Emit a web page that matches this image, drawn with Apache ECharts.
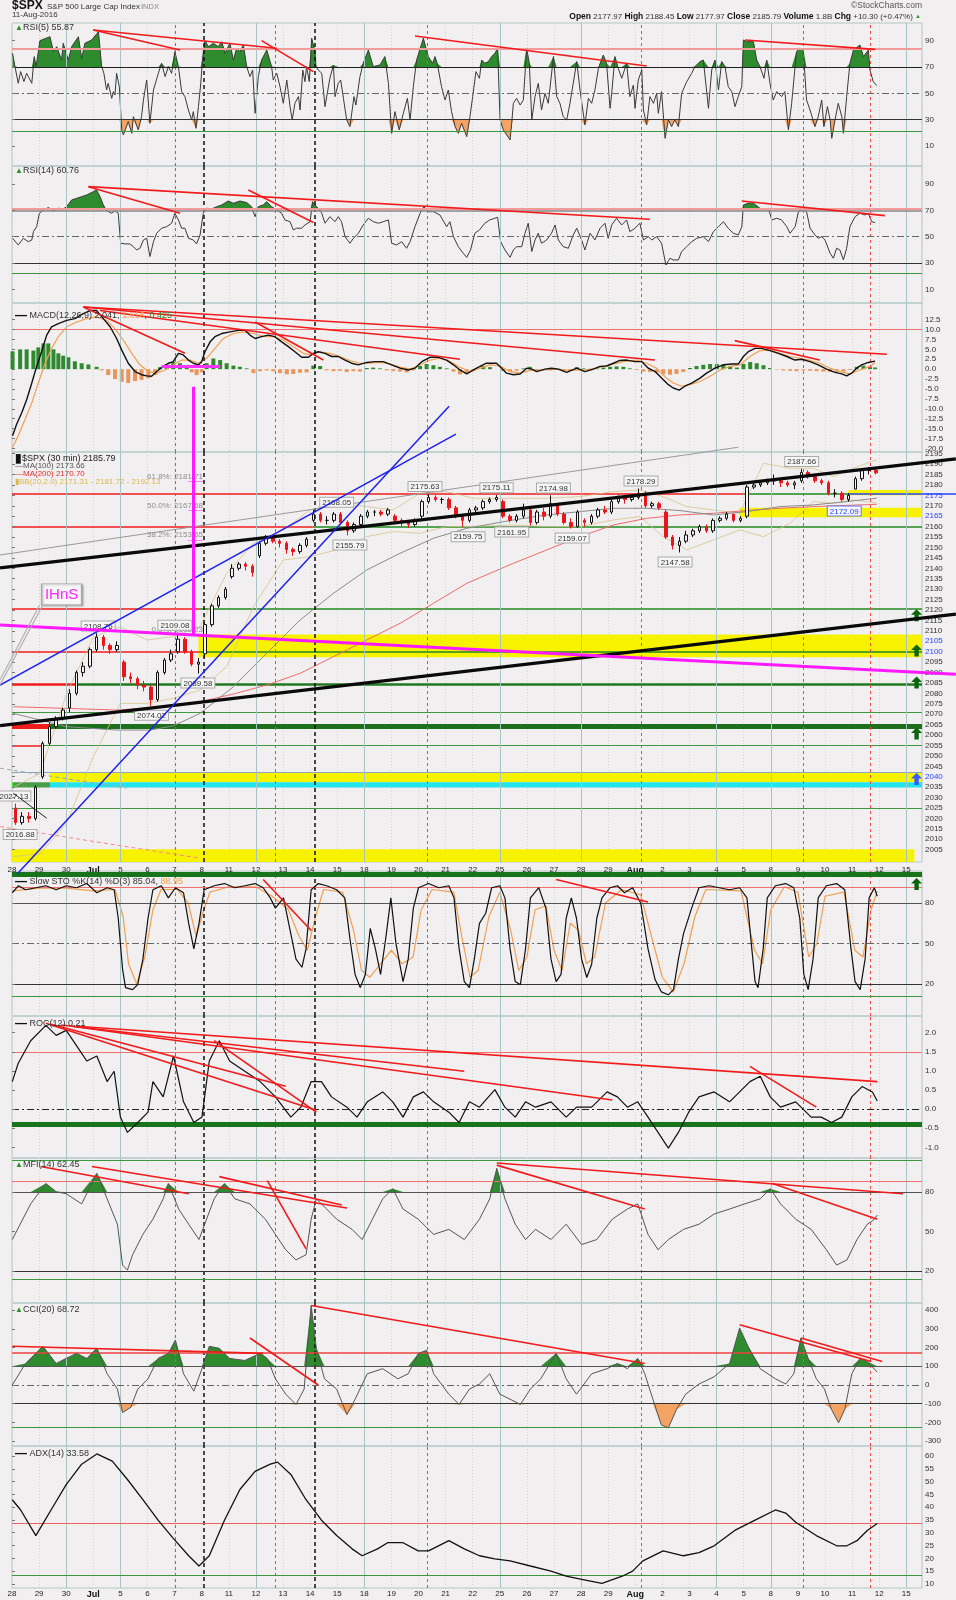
<!DOCTYPE html>
<html><head><meta charset="utf-8"><title>$SPX</title>
<script src="https://cdn.jsdelivr.net/npm/echarts@6.0.0/dist/echarts.min.js"></script>
<style>html,body{margin:0;padding:0;background:#f2eff0;}#c{width:956px;height:1600px;}</style>
</head><body><div id="c"></div>
<script>
// x = trading-day index (0 = 28 Jun 2016), fraction = time of day
const dayLabels = ['28','29','30','Jul','5','6','7','8','11','12','13','14','15','18','19','20','21','22','25','26','27','28','29','Aug','2','3','4','5','8','9','10','11','12','15'];

const rsi5 = [[0.02,80.4],[0.11,70.3],[0.23,57.6],[0.32,66.5],[0.44,58.9],[0.54,65.2],[0.73,57.6],[0.82,77.9],[0.89,70.3],[1.03,90],[1.40,93],[1.53,81.7],[1.65,85.4],[1.83,75.3],[1.89,88],[2.08,75.3],[2.20,85.4],[2.45,93],[2.57,76.6],[2.69,88],[2.94,90.5],[3.19,96.8],[3.31,70.3],[3.39,65.2],[3.49,52.5],[3.55,57.6],[3.68,46.2],[3.74,51.3],[3.80,48.7],[3.86,65.2],[3.96,55.1],[4.05,22.2],[4.11,18.4],[4.29,28.5],[4.42,19.6],[4.48,32.3],[4.66,22.2],[4.78,32.3],[4.85,44.9],[4.97,60.1],[5.09,27.2],[5.22,52.5],[5.40,65.2],[5.52,72.8],[5.65,62.7],[5.77,70.3],[5.89,65.2],[6.01,81.7],[6.14,70.3],[6.26,51.3],[6.38,47.5],[6.51,37.3],[6.63,29.8],[6.69,36.1],[6.79,23.4],[6.88,39.9],[6.96,56.3],[7.04,77.9],[7.12,90],[7.25,85.4],[7.43,88],[7.61,85.4],[7.74,89.2],[7.86,80.4],[8.04,88],[8.17,75.3],[8.29,84.2],[8.41,81.7],[8.54,86.7],[8.66,70.3],[8.78,62.7],[8.88,67.7],[8.97,34.8],[9.09,62.7],[9.21,75.3],[9.40,82.9],[9.58,70.3],[9.64,60.1],[9.77,65.2],[9.89,55.1],[10.01,42.4],[10.14,60.1],[10.26,39.9],[10.34,29.8],[10.44,42.4],[10.57,47.5],[10.63,37.3],[10.73,67.7],[10.81,58.9],[10.87,70.3],[10.97,58.9],[11.06,91.8],[11.18,81.7],[11.22,70.3],[11.30,67.7],[11.43,65.2],[11.55,39.9],[11.73,61.4],[11.86,71.5],[11.92,47.5],[12.04,57.6],[12.13,60.1],[12.23,46.2],[12.35,29.8],[12.47,24.7],[12.62,47.5],[12.69,41.1],[12.84,62.7],[12.96,72.8],[13.15,82.9],[13.33,70.3],[13.58,71.5],[13.76,77.9],[13.89,57.6],[14.01,19.6],[14.13,36.1],[14.29,22.2],[14.44,34.8],[14.59,46.2],[14.69,29.8],[14.81,55.1],[14.93,75.3],[15.18,91.8],[15.36,77.9],[15.52,72.8],[15.61,77.9],[15.69,72.8],[15.85,55.1],[15.98,44.9],[16.10,52.5],[16.22,36.1],[16.35,24.7],[16.47,19.6],[16.59,27.2],[16.78,17.1],[16.90,32.3],[17.00,47.5],[17.12,66.5],[17.25,61.4],[17.33,75.3],[17.45,72.8],[17.58,74.1],[17.70,77.9],[17.82,80.4],[17.92,84.2],[18.01,29.8],[18.13,22.2],[18.38,14.6],[18.44,27.2],[18.50,42.4],[18.62,46.2],[18.75,41.1],[18.87,44.9],[18.99,84.2],[19.09,72.8],[19.18,29.8],[19.30,47.5],[19.42,57.6],[19.54,37.3],[19.67,50],[19.79,42.4],[19.98,77.9],[20.10,47.5],[20.22,42.4],[20.34,32.3],[20.47,29.8],[20.59,42.4],[20.84,74.1],[20.96,52.5],[21.14,26],[21.27,46.2],[21.39,42.4],[21.51,52.5],[21.64,69],[21.82,79.1],[21.94,72.8],[22.07,38.6],[22.13,50],[22.25,77.9],[22.37,69],[22.50,61.4],[22.68,72.8],[22.80,47.5],[22.93,56.3],[22.99,38.6],[23.11,60.1],[23.24,67.7],[23.30,37.3],[23.42,26],[23.54,47.5],[23.67,42.4],[23.79,50],[23.85,34.8],[23.97,51.3],[24.10,15.8],[24.22,29.8],[24.34,24.7],[24.46,29.8],[24.59,24.7],[24.71,50],[24.90,58.9],[25.08,65.2],[25.20,70.3],[25.39,74.1],[25.51,75.3],[25.70,38.6],[25.82,67.7],[25.94,75.3],[26.07,52.5],[26.19,74.1],[26.31,70.3],[26.43,55.1],[26.56,51.3],[26.68,39.9],[26.80,47.5],[26.93,55.1],[26.99,90.5],[27.11,89.2],[27.36,89.2],[27.48,75.3],[27.60,70.3],[27.75,61.4],[27.85,75.3],[27.97,57.6],[28.09,44.9],[28.22,51.3],[28.40,47.5],[28.52,51.3],[28.65,22.2],[28.77,42.4],[28.95,81.7],[29.08,84.2],[29.20,82.9],[29.32,44.9],[29.45,37.3],[29.63,24.7],[29.75,32.3],[29.88,44.9],[29.96,24.7],[30.09,39.9],[30.19,29.8],[30.25,15.8],[30.37,29.8],[30.49,42.4],[30.62,32.3],[30.68,19.6],[30.80,47.5],[30.92,72.8],[31.05,82.9],[31.29,86.7],[31.42,77.9],[31.60,82.9],[31.66,67.7],[31.78,58.9],[31.91,55.87]];

const rsi14 = [[0.02,48.8],[0.23,43.7],[0.42,48.8],[0.60,46.2],[0.73,47.5],[0.79,53.8],[0.91,57.6],[1.01,67.8],[1.16,70.3],[1.34,72.1],[1.53,69.8],[1.71,71.6],[1.89,71.1],[2.02,72.8],[2.20,77.9],[2.39,79.2],[2.57,80.4],[2.76,81.7],[3.00,84.2],[3.12,85.5],[3.25,80.4],[3.37,74.1],[3.49,69.8],[3.68,67.8],[3.80,69.6],[3.92,67.8],[4.01,45],[4.17,44.5],[4.35,44.5],[4.48,42.4],[4.60,39.9],[4.72,41.2],[4.85,47.5],[4.97,48.8],[5.09,34.9],[5.22,46.2],[5.34,52.6],[5.52,56.4],[5.71,57.6],[5.89,60.2],[6.01,67.8],[6.14,62.7],[6.26,56.4],[6.38,56.4],[6.51,48.8],[6.69,47.5],[6.81,44.5],[6.94,51.3],[7.06,67.8],[7.18,71.6],[7.37,71.1],[7.55,72.8],[7.74,74.1],[7.98,77.1],[8.17,75.4],[8.41,77.1],[8.66,75.9],[8.84,72.8],[8.97,65.2],[9.09,72.8],[9.27,74.1],[9.40,76.6],[9.58,72.8],[9.77,70.3],[9.95,67.8],[10.07,62.7],[10.26,61.4],[10.38,55.1],[10.50,56.4],[10.69,56.4],[10.81,58.9],[11.00,61.4],[11.09,76.6],[11.24,72.8],[11.43,67.8],[11.55,60.2],[11.73,65.2],[11.92,61.4],[12.04,65.2],[12.16,61.4],[12.29,50],[12.47,45],[12.60,48.8],[12.78,52.6],[12.96,58.9],[13.15,64],[13.33,61.4],[13.52,60.2],[13.70,61.4],[13.89,62.7],[14.01,45],[14.19,43.7],[14.38,46.2],[14.56,41.2],[14.69,46.2],[14.87,57.6],[15.06,67.8],[15.20,72.8],[15.36,69],[15.55,69],[15.79,66.5],[16.04,57.6],[16.16,61.4],[16.29,50],[16.47,42.4],[16.65,37.4],[16.78,34.3],[16.92,39.9],[17.08,52.6],[17.25,55.1],[17.45,60.2],[17.63,62.7],[17.82,64],[17.92,64.7],[18.03,46.2],[18.19,39.9],[18.38,34.3],[18.50,39.9],[18.62,42.4],[18.81,42.4],[18.93,52.6],[19.05,60.2],[19.18,38.7],[19.30,47.5],[19.42,52.6],[19.54,45],[19.73,47.5],[19.91,52.6],[20.04,58.9],[20.16,47.5],[20.34,42.4],[20.53,41.2],[20.71,51.3],[20.84,56.4],[21.02,47.5],[21.14,39.9],[21.33,52.6],[21.51,47.5],[21.70,56.4],[21.88,60.2],[22.00,48.8],[22.13,58.9],[22.31,64],[22.50,58.9],[22.68,62.7],[22.80,53.8],[22.99,56.4],[23.17,60.2],[23.30,47.5],[23.48,50],[23.61,47.5],[23.79,50],[23.97,45],[24.13,28.5],[24.28,33.6],[24.40,32.3],[24.59,32.3],[24.71,38.7],[24.90,42.4],[25.08,46.2],[25.27,48.8],[25.51,50],[25.70,46.2],[25.88,53.8],[26.07,57.6],[26.25,61.4],[26.43,56.4],[26.62,52.6],[26.80,51.3],[26.93,57.6],[26.99,74.1],[27.17,75.4],[27.36,75.4],[27.60,71.6],[27.79,70.3],[27.91,71.6],[28.04,62.7],[28.22,64],[28.40,62.7],[28.59,57.6],[28.71,52.6],[28.90,57.6],[29.02,69],[29.20,71.6],[29.32,69],[29.45,56.4],[29.63,51.3],[29.75,48.8],[29.88,50],[30.00,47.5],[30.19,37.4],[30.31,33.6],[30.43,41.2],[30.55,39.9],[30.68,32.3],[30.80,41.2],[30.92,57.6],[31.11,65.2],[31.29,67.8],[31.48,66.5],[31.60,67.8],[31.72,61.4],[31.85,60.76]];

const macdLine = [[0.02,-16.8],[0.17,-13.9],[0.36,-11],[0.54,-7.7],[0.73,-3.5],[0.91,0.7],[1.09,4.4],[1.28,8.6],[1.46,10.7],[1.71,11.5],[2.02,12.3],[2.32,12.75],[2.63,14],[2.88,14.8],[3.12,14.8],[3.37,12.75],[3.62,10.7],[3.86,7.75],[4.05,4.8],[4.29,1.5],[4.54,-0.6],[4.78,-1.4],[4.97,-1.7],[5.15,-1.8],[5.34,-0.6],[5.58,0.7],[5.77,1.5],[5.95,1.9],[6.14,4],[6.32,3.6],[6.51,2.3],[6.69,1.5],[6.88,1.1],[7.0,1.9],[7.12,4.4],[7.31,6.9],[7.49,8.2],[7.74,9],[8.04,9.4],[8.35,9.8],[8.60,9.8],[8.78,8.6],[8.97,7.75],[9.21,8.2],[9.46,8.6],[9.70,8.2],[9.95,6.9],[10.20,5.7],[10.44,4.4],[10.69,3],[10.94,3],[11.12,4],[11.30,4.4],[11.55,4],[11.80,3.2],[12.04,3.2],[12.29,2.3],[12.53,1.5],[12.78,1.1],[13.09,1.7],[13.39,1.9],[13.70,1.9],[14.01,1.1],[14.32,0.25],[14.62,-0.2],[14.87,0.25],[15.12,1.9],[15.42,3],[15.73,3],[16.04,2.3],[16.29,1.1],[16.53,-0.2],[16.78,-1.2],[17.14,0.25],[17.51,1.5],[17.88,1.5],[18.07,0.25],[18.25,-1],[18.50,-1.4],[18.75,-1.2],[18.99,0.25],[19.18,0],[19.36,-0.6],[19.67,0],[19.91,0.25],[20.16,0],[20.47,-0.8],[20.84,0.25],[21.14,-0.6],[21.45,0],[21.70,0.7],[21.94,0.8],[22.19,1.5],[22.43,2.2],[22.68,2.3],[22.99,1.9],[23.24,1.9],[23.48,0.25],[23.73,-0.6],[23.97,-2.25],[24.22,-3.9],[24.40,-4.75],[24.62,-5.3],[24.83,-4.3],[25.08,-3.5],[25.39,-2.25],[25.63,-1],[25.94,0.25],[26.25,1.1],[26.56,1.3],[26.80,1.3],[26.99,3.2],[27.17,4.4],[27.42,5.25],[27.66,5.25],[27.97,4.7],[28.28,4],[28.59,3.2],[28.89,2.3],[29.14,2.5],[29.45,1.9],[29.75,1.1],[30.06,0],[30.37,-0.8],[30.62,-1.2],[30.80,-1.7],[30.98,-1],[31.17,0.25],[31.35,1.1],[31.60,1.7],[31.85,2.04]];

const macdSignal = [[0.02,-19.75],[0.23,-16.8],[0.48,-12.7],[0.73,-8.5],[0.97,-3.5],[1.22,1.5],[1.46,5.25],[1.71,8.2],[2.02,10.7],[2.39,11.9],[2.76,12.75],[3.12,13.2],[3.49,12.3],[3.80,10.25],[4.11,7.3],[4.42,4],[4.72,1.1],[5.03,-0.6],[5.34,-1],[5.65,-0.2],[5.95,1.1],[6.26,2.3],[6.57,2.3],[6.88,1.5],[7.18,2.75],[7.49,5.25],[7.80,7.75],[8.17,9],[8.54,9.4],[8.91,9],[9.27,8.3],[9.64,8.2],[10.01,7.3],[10.38,5.7],[10.75,4],[11.06,3.6],[11.36,4.4],[11.73,4],[12.10,3.2],[12.47,2.2],[12.84,1.5],[13.21,1.5],[13.58,1.7],[13.95,1.3],[14.32,0.5],[14.69,0],[15.06,1.1],[15.42,2.3],[15.79,2.75],[16.16,1.9],[16.53,0.5],[16.90,-0.6],[17.27,0.25],[17.64,1.1],[18.01,0.8],[18.38,-0.6],[18.75,-1],[19.11,-0.3],[19.61,-0.2],[20.10,0],[20.59,-0.3],[21.08,-0.2],[21.58,0.25],[22.07,1.1],[22.56,1.9],[23.05,2.3],[23.42,1.5],[23.79,0.25],[24.15,-2.25],[24.40,-3.5],[24.71,-4.3],[25.02,-3.9],[25.39,-3.1],[25.76,-1.8],[26.13,-0.2],[26.50,0.7],[26.87,1.1],[27.23,3.2],[27.60,4.7],[27.97,4.8],[28.34,4],[28.71,3.2],[29.08,2.75],[29.45,2.2],[29.81,1.5],[30.18,0.25],[30.55,-0.6],[30.92,-1.2],[31.29,-0.2],[31.66,0.7],[31.85,1.6]];

const macdHist = [[0.02,4.5],[0.30,5],[0.54,5],[0.79,4.7],[0.97,5.5],[1.16,6.5],[1.34,6.5],[1.53,5],[1.71,4],[1.89,3.4],[2.08,3],[2.32,2],[2.57,1.5],[2.82,1.2],[3.12,0.6],[3.31,-0.3],[3.55,-1.5],[3.80,-2.5],[4.05,-3.2],[4.29,-3.5],[4.54,-3],[4.78,-2.7],[5.03,-2.3],[5.28,-1.5],[5.46,0.5],[5.71,1.2],[5.95,1.8],[6.20,1.5],[6.45,0.3],[6.63,-0.8],[6.81,-1.5],[7.0,-0.8],[7.18,1.5],[7.43,2.7],[7.68,2.3],[7.92,1.5],[8.17,0.9],[8.41,0.6],[8.66,0.2],[8.91,-1],[9.15,-0.5],[9.40,-0.3],[9.64,-0.5],[9.89,-1],[10.14,-1.3],[10.38,-1.2],[10.63,-0.9],[10.87,-0.8],[11.12,0.9],[11.37,0.8],[11.61,-0.3],[11.86,-0.5],[12.10,-0.4],[12.35,-0.7],[12.60,-0.5],[12.84,-0.6],[13.09,0.3],[13.33,0.4],[13.58,0.2],[13.83,-0.3],[14.07,-0.5],[14.32,-0.6],[14.56,-0.8],[14.81,-0.3],[15.06,0.8],[15.30,1.3],[15.55,1],[15.79,0.6],[16.04,0.2],[16.29,-0.6],[16.53,-1.3],[16.78,-1],[17.02,-0.5],[17.39,0.8],[17.64,0.5],[17.88,0],[18.13,-0.5],[18.38,-0.6],[18.62,-0.4],[18.87,0.2],[19.11,0.6],[19.36,-0.3],[19.61,0],[19.85,-0.3],[20.10,0],[20.34,-0.5],[20.59,-0.4],[20.84,0.5],[21.08,0.2],[21.33,-0.3],[21.58,0.2],[21.82,0.4],[22.07,0.6],[22.31,0.7],[22.56,0.6],[22.80,0.2],[23.05,-0.2],[23.30,-0.6],[23.54,-0.7],[23.79,-0.9],[24.03,-1.3],[24.28,-1.4],[24.52,-1.2],[24.77,-0.7],[25.02,0.3],[25.26,0.8],[25.51,1.1],[25.76,1.3],[26.01,1.3],[26.25,1.2],[26.50,0.8],[26.75,0.4],[26.99,1.3],[27.24,1.8],[27.48,1.5],[27.73,1],[27.97,0.3],[28.22,-0.1],[28.46,-0.3],[28.71,-0.4],[28.95,-0.5],[29.20,-0.3],[29.45,-0.4],[29.69,-0.5],[29.94,-0.6],[30.19,-0.7],[30.43,-0.7],[30.68,-0.6],[30.92,-0.2],[31.17,0.6],[31.42,0.9],[31.66,0.6],[31.85,0.425]];

// [day, open, close, low, high]
const candles = [[0.125,2025,2018,2016.9,2027.1],[0.375,2018,2021,2017,2023],[0.625,2021,2020,2018,2023],[0.875,2020,2035,2019,2036],[1.125,2040,2056,2039,2057],[1.375,2056,2064,2055,2066],[1.625,2064,2068,2063,2069],[1.875,2068,2072,2067,2073],[2.125,2073,2080,2071,2082],[2.375,2080,2090,2079,2091],[2.625,2090,2093,2088,2095],[2.875,2093,2101,2092,2102],[3.125,2101,2107,2100,2108.8],[3.375,2107,2103,2101,2108],[3.625,2103,2101,2099,2104],[3.875,2101,2103,2100,2105],[4.125,2095,2088,2086,2096],[4.375,2088,2087,2085,2090],[4.625,2087,2084,2082,2088],[4.875,2084,2083,2081,2086],[5.125,2083,2077,2074,2084],[5.375,2077,2090,2076,2091],[5.625,2090,2096,2089,2097],[5.875,2096,2099,2095,2101],[6.125,2100,2106,2099,2109.1],[6.375,2106,2100,2099,2107],[6.625,2100,2094,2093,2101],[6.875,2094,2095,2089.5,2097],[7.125,2099,2113,2097,2114],[7.375,2113,2122,2112,2123],[7.625,2122,2126,2121,2127],[7.875,2126,2130,2125,2131],[8.125,2136,2140,2135,2142],[8.375,2140,2142,2139,2143],[8.625,2142,2141,2139,2143],[8.875,2141,2138,2136,2142],[9.125,2146,2152,2145,2153],[9.375,2152,2155,2151,2156],[9.625,2155,2153,2152,2156],[9.875,2153,2152,2150,2154],[10.125,2152,2149,2147,2153],[10.375,2149,2148,2146,2150],[10.625,2148,2151,2147,2152],[10.875,2151,2154,2150,2155],[11.125,2163,2166,2162,2168],[11.375,2166,2163,2162,2167],[11.625,2163,2163,2161,2165],[11.875,2163,2166,2162,2167],[12.125,2166,2162,2161,2167],[12.375,2162,2158,2155.8,2163],[12.625,2158,2161,2157,2162],[12.875,2161,2165,2160,2166],[13.125,2165,2167,2164,2168],[13.375,2167,2167,2165,2168],[13.625,2167,2166,2165,2168],[13.875,2166,2168,2165,2169],[14.125,2165,2163,2162,2166],[14.375,2163,2162,2160,2164],[14.625,2162,2161,2159.5,2163],[14.875,2161,2163,2160,2164],[15.125,2165,2172,2164,2173],[15.375,2172,2174,2171,2175.6],[15.625,2174,2173,2172,2175],[15.875,2173,2173,2171,2174],[16.125,2173,2169,2168,2174],[16.375,2169,2165,2164,2170],[16.625,2165,2163,2159.8,2166],[16.875,2163,2168,2162,2169],[17.125,2168,2169,2166,2170],[17.375,2169,2172,2168,2173],[17.625,2172,2173,2171,2174],[17.875,2173,2174,2172,2175.1],[18.125,2172,2165,2164,2173],[18.375,2165,2163,2162,2166],[18.625,2163,2165,2162,2166],[18.875,2165,2168,2164,2171],[19.125,2168,2162,2160.5,2169],[19.375,2162,2167,2161,2168],[19.625,2167,2165,2163,2169],[19.875,2165,2171,2164,2175],[20.125,2170,2166,2165,2171],[20.375,2166,2162,2161,2167],[20.625,2162,2160,2159.1,2164],[20.875,2160,2167,2159.5,2168],[21.125,2163,2162,2160,2164],[21.375,2162,2165,2161,2166],[21.625,2165,2168,2164,2169],[21.875,2168,2167,2166,2170],[22.125,2167,2172,2166,2174],[22.375,2172,2174,2171,2175],[22.625,2174,2173,2171,2175],[22.875,2173,2174,2172,2175],[23.125,2174,2176,2173,2178.3],[23.375,2176,2170,2169,2177],[23.625,2170,2171,2169,2172],[23.875,2171,2169,2168,2172],[24.125,2167,2155,2154,2168],[24.375,2155,2151,2149,2156],[24.625,2151,2153,2147.6,2155],[24.875,2153,2156,2152,2158],[25.125,2156,2158,2155,2159],[25.375,2158,2160,2157,2161],[25.625,2160,2158,2157,2161],[25.875,2158,2163,2157,2164],[26.125,2163,2164,2162,2165],[26.375,2164,2166,2163,2167],[26.625,2166,2163,2162,2166],[26.875,2163,2164,2162,2165],[27.125,2165,2179,2164,2180],[27.375,2179,2180,2178,2181],[27.625,2180,2181,2179,2182],[27.875,2181,2182,2180,2183],[28.125,2182,2182,2180,2185],[28.375,2182,2181,2179,2183],[28.625,2181,2180,2179,2182],[28.875,2180,2181,2178,2182],[29.125,2182,2186,2181,2187.7],[29.375,2186,2184,2183,2187],[29.625,2184,2182,2181,2185],[29.875,2182,2181,2180,2183],[30.125,2181,2176,2175,2182],[30.375,2176,2176,2174,2178],[30.625,2176,2173,2172,2177],[30.875,2173,2175,2172,2176],[31.125,2178,2183,2178,2184],[31.375,2183,2187,2182,2188],[31.625,2187,2187,2185,2188.5],[31.875,2187,2185.8,2185,2188]];

const ma100 = [[0.05,2070.4],[2.02,2064],[3.86,2062.4],[5.09,2062.4],[5.95,2064.4],[6.94,2070.4],[8.17,2083.2],[9.40,2099.2],[10.63,2115.2],[11.86,2128],[13.09,2139.2],[14.32,2147.2],[15.55,2154.4],[16.78,2159.2],[18.50,2163.2],[19.73,2165.6],[20.96,2167.2],[22.19,2168.8],[23.42,2168.8],[24.65,2167.7],[25.88,2165.6],[27.11,2167.2],[28.34,2169.6],[29.57,2170.4],[30.80,2172],[31.91,2173.66]];
const ma200 = [[0.05,2073.6],[2.02,2072.8],[3.86,2072],[5.71,2073.6],[6.94,2076],[8.17,2079.7],[9.40,2084],[10.63,2089.6],[11.86,2097.6],[13.09,2105.6],[14.32,2113.6],[15.55,2123.2],[16.78,2132.8],[18.50,2142.4],[19.73,2148.8],[20.96,2155.2],[22.19,2160.8],[23.42,2164],[24.65,2165.6],[25.88,2166.4],[27.11,2167.7],[28.34,2168.8],[29.57,2169.6],[30.80,2170.2],[31.91,2170.70]];
const bbDays  = [0.05,1.03,2.02,3.0,3.99,4.97,5.95,6.94,7.92,8.91,10.01,11.0,11.98,13.09,14.07,15.06,16.04,17.02,18.50,19.73,20.96,22.19,23.17,24.03,24.90,25.88,26.86,27.73,28.71,29.57,30.31,31.05,31.91];
const bbUpper = [2035,2041.6,2080,2107,2112,2105.6,2107.2,2112,2137.6,2152,2158.4,2168,2171.2,2169.6,2168,2176,2176.8,2173.6,2173.6,2173.6,2174.4,2176.8,2177.6,2174.4,2169.6,2168,2166.4,2190.4,2188,2188,2184,2188,2192.13];
const bbLower = [2001.7,2003,2017.7,2049.6,2075.2,2075.2,2077.6,2081.6,2092.8,2121.6,2144,2145.6,2148.8,2155.2,2157.6,2156.8,2160,2160,2160.8,2160,2160,2163.2,2164.8,2155.2,2148.8,2153.6,2158.4,2155.2,2161.6,2172,2171.2,2172.8,2171.31];

// annotated highs / lows
const hiLo = [[3.18,2108.76,'hi'],[6.01,2109.08,'hi'],[6.86,2089.58,'lo'],[5.15,2074.02,'lo'],[0.07,2027.13,'hi'],[0.3,2016.88,'lo'],[11.98,2168.05,'hi'],[12.47,2155.79,'lo'],[15.24,2175.63,'hi'],[16.83,2159.75,'lo'],[17.88,2175.11,'hi'],[18.44,2161.95,'lo'],[19.98,2174.98,'hi'],[20.67,2159.07,'lo'],[23.21,2178.29,'hi'],[24.47,2147.58,'lo'],[29.14,2187.66,'hi'],[30.71,2172.09,'lo2']];

// Slow STO
const stoK = [[0.01,87.6],[0.24,92.8],[0.5,89.8],[0.88,91.3],[1.25,92.8],[1.63,89.8],[2.0,92.8],[2.38,91.3],[2.76,94.4],[3.13,87.6],[3.51,91.3],[3.77,89.8],[3.92,68.7],[4.08,30.9],[4.19,17.3],[4.45,15.8],[4.64,19.5],[4.83,38.4],[5.02,68.7],[5.20,89.8],[5.51,92.8],[5.77,83.8],[6.03,91.3],[6.33,87.6],[6.52,64.9],[6.71,46],[6.90,64.9],[7.09,89.8],[7.46,92.8],[7.84,94.4],[8.22,91.3],[8.59,92.8],[8.97,94.4],[9.27,91.3],[9.53,83.8],[9.72,76.2],[10.02,83.8],[10.21,64.9],[10.48,38.4],[10.70,32.4],[10.85,46],[11.04,89.8],[11.30,94.4],[11.61,92.8],[11.98,89.8],[12.28,83.8],[12.47,53.5],[12.66,27.1],[12.85,17.3],[13.04,27.1],[13.22,61.1],[13.41,46],[13.60,27.1],[13.79,53.5],[13.98,83.8],[14.17,49.8],[14.43,21.8],[14.62,38.4],[14.81,76.2],[15.0,91.3],[15.37,94.4],[15.75,91.3],[16.12,92.8],[16.31,83.8],[16.50,46],[16.69,21.8],[16.88,17.3],[17.06,38.4],[17.25,64.9],[17.48,72.4],[17.70,91.3],[18.0,92.8],[18.19,83.8],[18.38,46],[18.57,21.8],[18.76,19.5],[18.95,46],[19.13,83.8],[19.44,91.3],[19.70,76.2],[19.89,38.4],[20.08,21.8],[20.26,27.1],[20.45,68.7],[20.64,83.8],[20.83,68.7],[21.02,38.4],[21.21,24.8],[21.39,34.6],[21.58,68.7],[21.77,83.8],[22.07,91.3],[22.34,92.8],[22.60,87.6],[22.90,91.3],[23.20,80],[23.47,46],[23.73,23.3],[23.96,14.2],[24.22,12],[24.41,15.8],[24.59,38.4],[24.78,57.3],[25.08,76.2],[25.35,91.3],[25.72,92.8],[26.10,91.3],[26.48,89.8],[26.85,91.3],[27.12,83.8],[27.30,46],[27.42,21.8],[27.53,17.3],[27.72,46],[27.87,83.8],[28.17,92.8],[28.55,94.4],[28.85,91.3],[29.07,68.7],[29.22,27.1],[29.38,15.8],[29.56,38.4],[29.75,83.8],[30.05,92.8],[30.43,94.4],[30.73,89.8],[30.96,46],[31.11,21.8],[31.30,15.8],[31.48,38.4],[31.63,83.8],[31.82,91.3],[31.93,85.04]];
const stoD = [[0.01,89],[1.0,91],[2.0,91],[3.0,89],[3.8,90],[4.1,70],[4.3,35],[4.6,20],[4.9,40],[5.2,75],[5.5,90],[6.1,90],[6.5,80],[6.8,55],[7.0,70],[7.3,88],[8.0,92],[9.0,92],[9.6,85],[10.2,75],[10.6,55],[10.9,45],[11.2,70],[11.5,90],[12.2,88],[12.6,60],[12.9,30],[13.2,25],[13.6,35],[14.0,45],[14.4,35],[14.8,40],[15.1,75],[15.5,90],[16.3,88],[16.6,55],[16.9,25],[17.2,30],[17.6,70],[18.0,88],[18.4,60],[18.7,30],[19.0,40],[19.3,75],[19.7,78],[20.0,45],[20.3,30],[20.6,65],[20.9,60],[21.2,35],[21.5,40],[21.9,80],[22.5,90],[23.2,86],[23.6,55],[24.0,25],[24.4,14],[24.8,35],[25.2,70],[25.6,90],[26.9,89],[27.4,45],[27.7,35],[28.0,75],[28.5,92],[29.0,88],[29.4,40],[29.7,50],[30.0,85],[30.7,88],[31.1,45],[31.4,40],[31.7,75],[31.93,88.95]];
const roc = [[0.01,0.72],[0.23,1.2],[0.69,1.79],[1.25,2.19],[1.63,1.93],[2.0,2.06],[2.38,1.66],[2.76,1.26],[3.13,1.39],[3.51,0.72],[3.77,0.99],[4.0,-0.21],[4.26,-0.61],[4.64,-0.35],[5.02,-0.08],[5.20,0.72],[5.58,0.32],[5.96,1.39],[6.33,0.19],[6.71,-0.35],[7.01,-0.21],[7.28,1.26],[7.65,1.79],[8.03,1.26],[8.59,0.99],[9.16,0.72],[9.72,0.32],[10.29,-0.21],[10.66,0.05],[11.04,0.72],[11.42,0.72],[11.79,0.32],[12.36,0.05],[12.73,-0.21],[13.11,0.19],[13.68,0.45],[14.05,0.19],[14.43,-0.21],[14.81,0.32],[15.18,0.45],[15.56,0.19],[16.12,-0.08],[16.50,-0.35],[16.88,0.19],[17.25,0.05],[17.82,0.51],[18.19,0.05],[18.57,-0.21],[18.95,0.19],[19.32,0.05],[19.89,0.19],[20.45,-0.21],[20.83,0.05],[21.39,0.05],[21.96,0.45],[22.34,0.32],[22.71,0.05],[23.09,0.19],[23.47,-0.21],[23.84,-0.61],[24.22,-1.02],[24.59,-0.61],[24.97,-0.08],[25.35,0.32],[25.91,0.45],[26.48,0.19],[26.85,0.45],[27.23,0.72],[27.61,0.86],[27.98,0.32],[28.36,0.05],[28.92,0.19],[29.49,-0.21],[29.86,-0.21],[30.24,-0.35],[30.62,-0.21],[30.99,0.32],[31.37,0.59],[31.75,0.45],[31.93,0.21]];
const mfi = [[0.01,44],[0.69,71],[1.25,86.4],[1.63,80.2],[2.0,78.7],[2.57,71],[3.13,94.1],[3.51,74.8],[3.89,55.6],[4.08,24.7],[4.26,20.9],[4.45,32.5],[4.83,47.9],[5.20,59.4],[5.58,74.8],[5.77,86.4],[6.15,67.1],[6.52,55.6],[6.90,44],[7.46,74.8],[7.84,86.4],[8.22,74.8],[8.78,71],[9.35,59.4],[9.72,47.9],[10.10,36.3],[10.48,28.6],[10.85,32.5],[11.04,59.4],[11.23,74.8],[11.61,67.1],[11.98,59.4],[12.55,51.7],[12.92,44],[13.30,59.4],[13.68,74.8],[14.05,82.5],[14.43,67.1],[14.99,59.4],[15.56,47.9],[16.12,51.7],[16.69,44],[17.25,59.4],[17.63,74.8],[17.89,97.9],[18.19,74.8],[18.57,55.6],[18.95,44],[19.32,51.7],[19.89,44],[20.45,55.6],[21.02,40.2],[21.58,44],[22.15,59.4],[22.71,67.1],[23.09,71],[23.47,47.9],[23.84,36.3],[24.22,44],[24.78,51.7],[25.35,55.6],[25.91,63.3],[26.48,67.1],[27.04,71],[27.61,74.8],[27.98,82.5],[28.36,71],[28.92,59.4],[29.49,51.7],[30.05,36.3],[30.43,24.7],[30.81,28.6],[31.18,44],[31.56,55.6],[31.75,58],[31.93,62.45]];
const cci = [[0.01,0],[0.5,115],[1.14,207],[1.63,115],[2.0,142],[2.38,169],[2.76,142],[3.13,196],[3.51,60],[3.89,-22],[4.08,-147],[4.38,-120],[4.64,-22],[5.02,33],[5.39,142],[5.77,169],[6.03,240],[6.33,60],[6.71,-33],[7.01,87],[7.28,207],[7.65,196],[8.03,142],[8.59,131],[9.16,169],[9.42,142],[9.72,33],[10.10,-49],[10.48,-104],[10.78,-22],[11.04,425],[11.23,196],[11.53,33],[11.98,-22],[12.36,-158],[12.66,-76],[13.11,60],[13.68,87],[14.24,33],[14.62,60],[15.0,169],[15.30,185],[15.56,60],[16.12,-49],[16.50,-104],[16.88,-22],[17.25,5],[17.63,60],[18.0,-49],[18.38,-76],[18.76,-104],[19.13,-22],[19.51,33],[20.08,169],[20.45,33],[20.83,-49],[21.39,60],[21.96,87],[22.34,115],[22.71,87],[23.09,142],[23.35,60],[23.65,-76],[23.96,-213],[24.22,-229],[24.52,-131],[24.86,-49],[25.35,5],[25.91,44],[26.48,115],[26.85,305],[27.16,207],[27.61,87],[28.17,33],[28.55,5],[28.85,60],[29.11,251],[29.38,142],[29.68,33],[29.98,-22],[30.24,-131],[30.50,-202],[30.73,-131],[30.99,60],[31.30,142],[31.56,125],[31.93,68.72]];
const adx = [[0.01,42.9],[0.32,38.9],[0.88,28.9],[1.44,38.9],[2.0,48.8],[2.57,56.8],[3.13,60.8],[3.70,58],[4.26,50.8],[4.83,42.9],[5.39,34.9],[5.96,27.7],[6.52,21],[6.90,17],[7.28,21],[7.84,34.9],[8.41,46.9],[8.97,54],[9.53,56.8],[9.80,57.6],[10.29,52.8],[10.85,42.9],[11.42,34.9],[11.98,28.9],[12.55,23.7],[12.92,21],[13.49,23.7],[13.86,26.1],[14.43,26.1],[14.99,22.9],[15.37,22.9],[16.12,26.9],[16.69,23.7],[17.25,21],[17.82,19.8],[18.38,19],[19.13,17],[19.89,15],[20.45,13],[21.02,11.8],[21.77,10.2],[22.52,13],[22.90,15],[23.28,19],[24.03,22.9],[24.78,21],[25.35,22.2],[25.91,24.9],[26.67,30.9],[27.42,34.9],[28.17,38.9],[28.55,37.7],[28.92,34.1],[29.68,28.9],[30.43,24.9],[30.81,24.9],[31.18,26.9],[31.56,30.9],[31.93,33.58]];

// hand-drawn trend lines [[day,value],[day,value]]
const rsi5Trend = [[[3.0,98.1],[6.2,82.9]],[[3.0,98.1],[9.77,84.2]],[[9.21,90],[11.12,66.5]],[[14.87,93.5],[23.42,70.8]],[[27.05,90.5],[31.85,83.4]]];
const rsi14Trend = [[[2.82,88],[6.2,67.8]],[[2.82,88],[23.54,63.2]],[[8.72,85.5],[11.12,60.7]],[[26.93,77.1],[32.21,66]]];
const macdTrend = [[[2.63,15.7],[6.38,4]],[[2.63,15.7],[32.28,3.75]],[[2.63,15.7],[23.72,2.3]],[[3.25,14.8],[16.53,2.5]],[[8.97,11.9],[11.49,2.3]],[[26.67,7.2],[29.81,2.3]]];
const stoTrend = [[[9.27,97.4],[11.04,59.6]],[[20.08,97.4],[23.47,80.8]]];
const rocTrend = [[[1.25,2.25],[11.23,-0.03]],[[1.44,2.22],[10.10,0.6]],[[1.82,2.2],[16.69,0.99]],[[2.2,2.17],[22.15,0.24]],[[2.38,2.17],[31.93,0.72]],[[7.46,1.79],[11.23,-0.08]],[[27.23,1.12],[29.68,0.05]]];
const mfiTrend = [[[1.06,99.3],[6.52,78.7]],[[2.95,99.3],[12.36,67.9]],[[7.65,91.6],[12.17,70.2]],[[9.42,88.6],[10.85,36.9]],[[17.89,101.9],[32.88,78.7]],[[17.89,100.3],[23.35,67.1]],[[28.06,86.4],[31.93,59.4]]];
const cciTrend = [[[0.01,207],[9.27,169]],[[8.78,251],[11.30,0]],[[11.04,425],[23.35,115]],[[26.85,322],[31.71,125]],[[29.11,251],[32.11,125]]];
const priceBlack = [[[-0.44,2140.2],[34.83,2192.5]],[[-0.44,2064.5],[34.83,2118]]];
const priceMagenta = [[[-0.44,2112.8],[34.83,2089.2]],[[6.69,2108.2],[6.69,2227.1]]];
const priceBlue = [[[-0.44,2084],[16.38,2204.4]],[[0.2,1993.5],[16.13,2217.8]]];
const priceGray = [[[-0.44,2146.4],[26.8,2198.1]]];
const priceMisc = [[[0.05,2032.1],[1.28,2020.1]]];
const priceDashRed = [[[-0.44,2016.05],[6.94,2000.9]]];
const priceDashGray = [[[-0.44,2044.1],[4.23,2034.5]]];
const calloutLines = [[[1.14,2122.4],[-0.44,2084.2]],[[1.02,2122.4],[-0.44,2086.5]]];
// [price, fromDay, toDay, kind]
const priceLevels = [[2175.6,0,27.0,'red'],[2175.6,27.0,30.86,'green'],[2175.6,30.86,34.85,'blue'],[2160,0,11.1,'red'],[2160,11.1,33.58,'green'],[2120.6,0,6.9,'red'],[2120.6,6.9,33.58,'green'],[2099.8,0,6.9,'red'],[2099.8,6.9,33.58,'green'],[2084.5,0,2.4,'redMid'],[2084.5,2.4,33.58,'greenMid'],[2070.8,0,33.58,'greenThin'],[2064.4,0,1.4,'redThick'],[2064.4,1.4,33.58,'greenThick'],[2055,0,1.16,'red'],[2055,1.16,33.58,'greenThin'],[2042.1,0,33.58,'gray'],[2025,0,33.58,'greenThin']];
// [fromDay, topPrice, toDay, bottomPrice, kind]
const priceBands = [[6.88,2108.3,34.85,2097.3,'yellow'],[1.4,2042.1,34.85,2037.4,'yellow'],[1.4,2037.4,34.85,2034.8,'cyan'],[-0.44,2037.4,0.04,2034.8,'lime'],[0.04,2037.4,1.4,2034.8,'green'],[0.0,2005.2,33.3,1999.1,'yellow'],[30.86,2177.6,34.85,2175.0,'yellow'],[26.84,2169.1,34.85,2164.5,'yellow']];
const fibLevels = [[2108.23,'0.0%: 2108.23'],[2153.65,'38.2%: 2153.65'],[2167.68,'50.0%: 2167.68'],[2181.71,'61.8%: 2181.71'],[2227.13,'100.0%: 2227.13']];
const upArrows = [2117.5,2100.6,2085.2,2060.7];
const blueArrows = [2038.9];

const priceTicks = [2005,2010,2015,2020,2025,2030,2035,2040,2045,2050,2055,2060,2065,2070,2075,2080,2085,2090,2095,2100,2105,2110,2115,2120,2125,2130,2135,2140,2145,2150,2155,2160,2165,2170,2175,2180,2185,2190,2195];
const blueTicks = [2175,2165,2105,2100,2040];
const rsiTicks = [10,30,50,70,90];
const macdTicks = [12.5,10,7.5,5,2.5,0,-2.5,-5,-7.5,-10,-12.5,-15,-17.5,-20];
const stoTicks = [20,50,80];
const rocTicks = [-1,-0.5,0,0.5,1,1.5,2];
const mfiTicks = [20,50,80];
const cciTicks = [-300,-200,-100,0,100,200,300,400];
const adxTicks = [10,15,20,25,30,35,40,45,50,55,60];

// ------------------------------------------------------------------
const FONT = "'Liberation Sans', Arial, sans-serif";
const BG = '#f2eff0';
const grids = [[23,143],[166,137],[303,149],[452,410],[871,145],[1016,142],[1158,145],[1303,143],[1446,142]];
const yRanges = [[-5.2,103.4],[-0.4,103.7],[-20.9,16.7],[1999.1,2195.8],[-3.7,103.7],[-1.28,2.437],[-4,105.7],[-326,438],[8.4,63.9]];
const yTickSets = [rsiTicks,rsiTicks,macdTicks,priceTicks,stoTicks,rocTicks,mfiTicks,cciTicks,adxTicks];
const XMAX = 33.58;
const vSolid = [2,4,9,13,18,21,26,28,33], vRed = [6.04,9.73,15.34,23.22,29.2,31.66], vBlack = [7.08,11.18];

const DASHDOT = [7,3,2,3];
function lvl(y,color,width,type){return {yAxis:y,lineStyle:{color:color,width:width,type:type||'solid'}};}
const panelLevels = [
  [lvl(84,'#f39a9a',2),lvl(70,'#222',1),lvl(50,'#666',1,DASHDOT),lvl(30,'#333',1),lvl(21,'#3c963c',1)],
  [lvl(71.5,'#f39a9a',2),lvl(70,'#888',1.5),lvl(50,'#666',1,DASHDOT),lvl(30,'#333',1),lvl(22,'#3c963c',1)],
  [lvl(10,'#f07070',1)],
  [],
  [lvl(101.3,'#17741a',5),lvl(92,'#f07070',1),lvl(80,'#555',1),lvl(50,'#666',1,DASHDOT),lvl(20,'#333',1),lvl(11,'#3c963c',1)],
  [lvl(1.5,'#f07070',1),lvl(0,'#222',1,DASHDOT),lvl(-0.4,'#17741a',5)],
  [lvl(104.2,'#3c963c',1),lvl(88.3,'#f07070',1),lvl(80,'#555',1),lvl(20,'#333',1),lvl(14,'#3c963c',1)],
  [lvl(170,'#f04040',1.5),lvl(100,'#555',1),lvl(0,'#666',1,DASHDOT),lvl(-100,'#333',1),lvl(-225,'#3c963c',1)],
  [lvl(33.6,'#f06060',1),lvl(13.5,'#3c963c',1)]
];

function vertMarks(){
  return [].concat(
    vSolid.map(x=>({xAxis:x,lineStyle:{color:'#a9c4c4',width:1,type:'solid'}})),
    vRed.map(x=>({xAxis:x,lineStyle:{color:'#ee4a44',width:1,type:[3,3]}})),
    vBlack.map(x=>({xAxis:x,lineStyle:{color:'#111',width:1.5,type:[4,3]}}))
  );
}

const xAxes = grids.map((g,i)=>({
  type:'value', gridIndex:i, min:0, max:XMAX, interval:1,
  axisLine:{show:false}, axisTick:{show:false},
  axisLabel:{show:(i===3||i===8), fontSize:8, color:'#222', fontFamily:FONT, margin:(i===3?4:2),
    formatter:v=>{const t=dayLabels[Math.round(v)]; if(t===undefined||Math.abs(v-Math.round(v))>0.01) return ''; return (t==='Jul'||t==='Aug')?'{b|'+t+'}':t;},
    rich:{b:{fontWeight:'bold',fontSize:9,color:'#111',fontFamily:FONT}}},
  splitLine:{show:true,lineStyle:{color:'#d6d2d4',type:[1,2],width:1}}
}));

function fmtY(i,v){
  if(i===2||i===5) return v.toFixed(1);
  if(i===3 && blueTicks.indexOf(v)>=0) return '{b|'+v+'}';
  return String(v);
}
const yAxes = grids.map((g,i)=>({
  type:'value', gridIndex:i, position:'right', min:yRanges[i][0], max:yRanges[i][1],
  axisLine:{show:false},
  axisTick:{show:true, customValues:yTickSets[i], length:3, inside:false, lineStyle:{color:'#777'}},
  axisLabel:{show:true, customValues:yTickSets[i], fontSize:8, color:'#333', fontFamily:FONT, margin:3, formatter:v=>fmtY(i,v),
    rich:{b:{color:'#2b46ff',fontSize:8,fontFamily:FONT}}},
  splitLine:{show:false}, z:8
}));

const series = [];
function baseSeries(gi){
  series.push({type:'line',xAxisIndex:gi,yAxisIndex:gi,data:[],silent:true,z:1,
    markLine:{silent:true,symbol:'none',animation:false,label:{show:false},data:vertMarks().concat(panelLevels[gi])}});
}
function lineS(gi,data,color,width,z){
  series.push({type:'line',xAxisIndex:gi,yAxisIndex:gi,data:data,symbol:'none',silent:true,lineStyle:{color:color,width:width||1},z:z||4});
}
function fillS(gi,data,thr,above,color){
  const d = data.map(p=>[p[0], above?Math.max(p[1],thr):Math.min(p[1],thr)]);
  series.push({type:'line',xAxisIndex:gi,yAxisIndex:gi,data:d,symbol:'none',silent:true,lineStyle:{width:0},areaStyle:{color:color,origin:thr,opacity:1},z:3});
}
function segS(gi,segs,color,width,z,type,clip){
  series.push({type:'lines',coordinateSystem:'cartesian2d',xAxisIndex:gi,yAxisIndex:gi,silent:true,clip:!!clip,z:z||6,
    lineStyle:{color:color,width:width,type:type||'solid',opacity:1},
    data:segs.map(s=>({coords:s}))});
}
function tagS(gi,items){
  series.push({type:'line',xAxisIndex:gi,yAxisIndex:gi,data:[],silent:true,z:30,
    markLine:{symbol:'none',silent:true,animation:false,lineStyle:{opacity:0},
      label:{show:true,position:'end',distance:0,fontSize:8,fontFamily:FONT,color:'#111',backgroundColor:'#fff',borderWidth:1,borderRadius:2,padding:[1,2,0,2]},
      data:items.map(it=>[{coord:[33.4,it[0]],label:{formatter:it[1],borderColor:it[2],color:it[3]||'#111',fontWeight:it[4]?'bold':'normal'}},{coord:[XMAX,it[0]]}])}});
}
const ARROW = 'path://M5,0 L10,5 L7,5 L7,11 L3,11 L3,5 L0,5 Z';

const GREEN='#2e8b2e', ORANGE='#f3a464', TREND='#f21a1a';
// RSI(5)
baseSeries(0); fillS(0,rsi5,70,true,GREEN); fillS(0,rsi5,30,false,ORANGE); lineS(0,rsi5,'#3a3a3a',1);
segS(0,rsi5Trend,TREND,1.6,7); tagS(0,[[55.87,'55.87','#444']]);
// RSI(14)
baseSeries(1); fillS(1,rsi14,70,true,GREEN); fillS(1,rsi14,30,false,ORANGE); lineS(1,rsi14,'#3a3a3a',1);
segS(1,rsi14Trend,TREND,1.6,7); tagS(1,[[60.76,'60.76','#444']]);
// MACD
baseSeries(2);
series.push({type:'bar',xAxisIndex:2,yAxisIndex:2,data:macdHist,barWidth:4,silent:true,z:2,
  itemStyle:{color:p=>p.value[1]>=0?'#2f8a2f':'#e8945a'}});
lineS(2,macdSignal,'#f0a050',1.2,4); lineS(2,macdLine,'#111',1.4,5);
segS(2,macdTrend,TREND,1.6,7);
segS(2,[[[5.52,0.67],[7.68,0.67]]],'#ff33ff',3,8);
tagS(2,[[2.041,'2.041','#222'],[0.425,'0.425','#d4a060']]);

// Price
series.push({type:'line',xAxisIndex:3,yAxisIndex:3,data:[],silent:true,z:0,
  markArea:{silent:true,data:priceBands.map(b=>[{coord:[b[0],b[1]],itemStyle:{color:{yellow:'#f6f200',cyan:'#22e4ee',lime:'#30ee30',green:'#4a9e4a'}[b[4]],opacity:1}},{coord:[b[2],b[3]]}])}});
baseSeries(3);
// Bollinger band (stacked: base = lower band, fill = band width)
series.push({type:'line',xAxisIndex:3,yAxisIndex:3,stack:'bb',data:bbDays.map((d,i)=>[d,bbLower[i]]),symbol:'none',silent:true,lineStyle:{width:0},z:2});
series.push({type:'line',xAxisIndex:3,yAxisIndex:3,stack:'bb',data:bbDays.map((d,i)=>[d,bbUpper[i]-bbLower[i]]),symbol:'none',silent:true,lineStyle:{width:0},areaStyle:{color:'rgba(200,188,150,0.32)'},z:2});
lineS(3,bbDays.map((d,i)=>[d,bbUpper[i]]),'rgba(215,195,140,0.8)',1,3);
lineS(3,bbDays.map((d,i)=>[d,bbLower[i]]),'rgba(215,195,140,0.8)',1,3);
// levels
const levelStyle = {red:['#f01c1c',1.5],green:['#1f8a1f',1.5],blue:['#2244ff',1.5],redMid:['#f01c1c',2.5],greenMid:['#1f7a1f',2.5],greenThin:['#3c9a3c',1],redThick:['#f01c1c',5],greenThick:['#1c701c',5],gray:['#8aa8b8',1]};
series.push({type:'lines',coordinateSystem:'cartesian2d',xAxisIndex:3,yAxisIndex:3,silent:true,clip:false,z:3,
  data:priceLevels.map(l=>({coords:[[l[1],l[0]],[l[2],l[0]]],lineStyle:{color:levelStyle[l[3]][0],width:levelStyle[l[3]][1],opacity:1}}))});
lineS(3,ma200,'#f06a6a',1,4);
lineS(3,ma100,'#8a8a8a',1,4);
segS(3,priceGray,'#999',1,5,'solid',false);
segS(3,priceDashRed,'#f08a8a',1,5,[4,3],false);
segS(3,priceDashGray,'#9aa',1,5,[4,3],false);
// candles
series.push({type:'candlestick',xAxisIndex:3,yAxisIndex:3,data:candles,encode:{x:0,y:[1,2,3,4]},barWidth:3,silent:true,z:6,
  itemStyle:{color:'#f6f4f4',color0:'#e8161c',borderColor:'#111',borderColor0:'#e8161c',borderWidth:1},
  markPoint:{symbol:'circle',symbolSize:0,silent:true,
    data:hiLo.map(h=>({coord:[h[0],h[1]],value:h[1],label:{show:true,position:h[2]==='hi'?'top':'bottom',distance:h[2]==='hi'?3:5,formatter:h[1].toFixed(2),fontSize:8,fontFamily:FONT,color:h[2]==='lo2'?'#2244ff':'#333',backgroundColor:'#f6f6f6',borderColor:h[2]==='lo2'?'#6677ff':'#aaa',borderWidth:1,padding:[1,2,0,2]}}))}});
segS(3,priceBlack,'#0a0a0a',3.2,9,'solid',false);
segS(3,priceMisc,'#222',1,9,'solid',false);
segS(3,priceBlue,'#1f22ee',1.5,9,'solid',false);
segS(3,priceMagenta,'#ff19ff',3,10,'solid',false);
segS(3,calloutLines,'#b0b0b0',1.2,10,'solid',false);
// fib ticks + labels
series.push({type:'line',xAxisIndex:3,yAxisIndex:3,data:[],silent:true,z:11,
  markLine:{symbol:'none',silent:true,animation:false,
    lineStyle:{color:'#ff80ff',width:1,type:'solid'},
    label:{show:true,position:'insideEndTop',distance:[0,1],fontSize:8,fontFamily:FONT,color:'#8c8c8c'},
    data:fibLevels.map(f=>[{coord:[6.5,f[0]],label:{formatter:f[1]}},{coord:[7.05,f[0]]}])}});
// IHnS callout + arrows
series.push({type:'line',xAxisIndex:3,yAxisIndex:3,data:[],silent:true,z:12,
  markPoint:{silent:true,data:[
    {coord:[1.83,2127.5],symbol:'rect',symbolSize:[40,21],itemStyle:{color:'#f7f7f7',borderColor:'#a8a8a8',borderWidth:1,shadowColor:'rgba(0,0,0,0.25)',shadowBlur:2,shadowOffsetX:1,shadowOffsetY:1},
     label:{show:true,position:'inside',formatter:'IHnS',fontSize:15,color:'#ff22ff',fontFamily:FONT}}
  ].concat(upArrows.map(p=>({coord:[33.38,p],symbol:ARROW,symbolSize:[11,12],itemStyle:{color:'#0c640c'},label:{show:false}})))
   .concat(blueArrows.map(p=>({coord:[33.38,p],symbol:ARROW,symbolSize:[11,12],itemStyle:{color:'#3b5bff'},label:{show:false}})))}});
tagS(3,[[2192.13,'2192.13','#d8b870'],[2185.79,'2185.79','#111','#111',true],[2181.72,'2181.72','#d8b870'],[2173.66,'2173.66','#777'],[2170.70,'2170.70','#e04040']]);

// Slow STO
baseSeries(4); lineS(4,stoD,'#f0a050',1.2,4); lineS(4,stoK,'#111',1.2,5); segS(4,stoTrend,TREND,1.6,7);
series.push({type:'line',xAxisIndex:4,yAxisIndex:4,data:[],silent:true,z:12,
  markPoint:{silent:true,data:[{coord:[33.38,94],symbol:ARROW,symbolSize:[11,12],itemStyle:{color:'#0c640c'},label:{show:false}}]}});
tagS(4,[[88.95,'88.95','#e0a050','#c07020'],[85.04,'85.04','#444']]);
// ROC
baseSeries(5); lineS(5,roc,'#111',1.2,5); segS(5,rocTrend,TREND,1.6,7); tagS(5,[[0.21,'0.21','#444']]);
// MFI
baseSeries(6); fillS(6,mfi,80,true,GREEN); fillS(6,mfi,20,false,ORANGE); lineS(6,mfi,'#555',1,5); segS(6,mfiTrend,TREND,1.6,7); tagS(6,[[62.45,'62.45','#444']]);
// CCI
baseSeries(7); fillS(7,cci,100,true,GREEN); fillS(7,cci,-100,false,ORANGE); lineS(7,cci,'#555',1,5); segS(7,cciTrend,TREND,1.6,7); tagS(7,[[68.72,'68.72','#444']]);
// ADX
baseSeries(8); lineS(8,adx,'#111',1.3,5); tagS(8,[[33.58,'33.58','#444']]);

const LG = {g:{fill:'#2e8b2e',fontSize:8},k:{fill:'#111',fontWeight:'bold'},o:{fill:'#f0a050'},e:{fill:'#2e8b2e'}};
function txt(left,top,text,opt){
  return {type:'text',left:left,top:top,z:50,style:Object.assign({text:text,fontSize:9,fontFamily:FONT,fill:'#222',rich:LG},opt||{})};
}
const graphics = [
  txt(12,0,'$SPX',{fontSize:12,fontWeight:'bold',fill:'#111'}),
  txt(47,3,'S&P 500 Large Cap Index',{fontSize:8,fill:'#333'}),
  txt(141,3,'INDX',{fontSize:7.5,fill:'#888'}),
  txt(12,11,'11-Aug-2016',{fontSize:8,fill:'#333'}),
  {type:'text',right:34,top:1,z:50,style:{text:'©StockCharts.com',fontSize:8.5,fontFamily:FONT,fill:'#555'}},
  {type:'text',right:35,top:12,z:50,style:{text:'{b|Open} 2177.97 {b|High} 2188.45 {b|Low} 2177.97 {b|Close} 2185.79 {b|Volume} 1.8B {b|Chg} +10.30 (+0.47%) {g|▲}',fontSize:8,fontFamily:FONT,fill:'#333',
    rich:{b:{fontWeight:'bold',fontSize:8.5,fontFamily:FONT,fill:'#111'},g:{fontSize:6,fill:'#2a9a2a'}}}},
  txt(15,23,'{g|▲}RSI(5) 55.87',{fill:'#333'}),
  txt(15,166,'{g|▲}RSI(14) 60.76',{fill:'#333'}),
  txt(15,310,'{k|—} MACD(12,26,9) 2.041, {o|1.616}, {e|0.425}',{fill:'#333'}),
  txt(15,453,'{k|▮}$SPX (30 min) 2185.79',{fill:'#222'}),
  txt(15,462,'—MA(100) 2173.66',{fontSize:8,fill:'#555'}),
  txt(15,470,'—MA(200) 2170.70',{fontSize:8,fill:'#e03030'}),
  txt(15,478,'▮BB(20,2.0) 2171.31 - 2181.72 - 2192.13',{fontSize:8,fill:'#d8b850'}),
  txt(15,876,'{k|—} Slow STO %K(14) %D(3) 85.04, {o|88.95}',{fill:'#333'}),
  txt(15,1018,'{k|—} ROC(12) 0.21',{fill:'#333'}),
  txt(15,1160,'{g|▲}MFI(14) 62.45',{fill:'#333'}),
  txt(15,1305,'{g|▲}CCI(20) 68.72',{fill:'#333'}),
  txt(15,1448,'{k|—} ADX(14) 33.58',{fill:'#333'})
];

const chart = echarts.init(document.getElementById('c'),null,{renderer:'canvas'});
chart.setOption({
  animation:false, backgroundColor:BG,
  textStyle:{fontFamily:FONT},
  grid:grids.map(g=>({left:12,width:910,top:g[0],height:g[1],show:true,borderColor:'#b2c8c8',borderWidth:1,backgroundColor:'transparent'})),
  xAxis:xAxes, yAxis:yAxes, series:series, graphic:graphics
});
</script></body></html>
